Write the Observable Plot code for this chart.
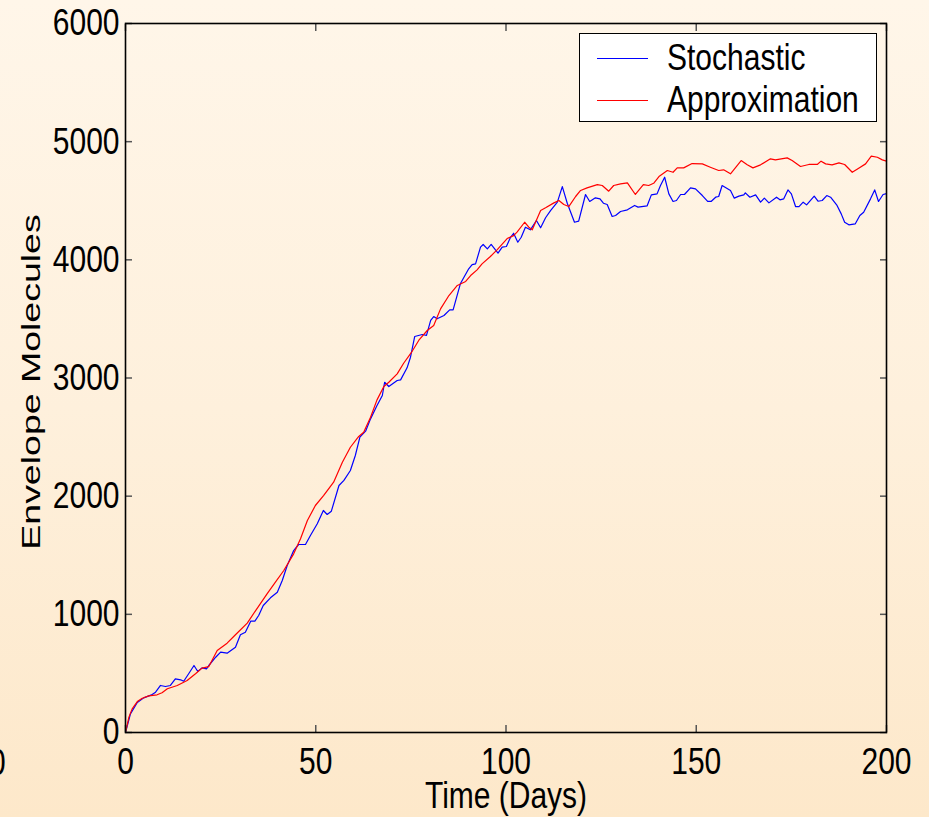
<!DOCTYPE html>
<html>
<head>
<meta charset="utf-8">
<script src="https://cdn.jsdelivr.net/npm/d3@7"></script>
<script src="https://cdn.jsdelivr.net/npm/@observablehq/plot@0.6"></script>
<style>
  html, body { margin: 0; padding: 0; }
  body {
    width: 929px; height: 817px; overflow: hidden; position: relative;
    background: linear-gradient(to bottom, #fff6e9 0%, #fef0dc 50%, #fde8ca 100%);
    font-family: "Liberation Sans", Arial, Helvetica, sans-serif;
  }
  #chart { position: absolute; left: 0; top: 0; }
  #legend {
    position: absolute; left: 579px; top: 33px; width: 296px; height: 87px;
    background: #ffffff; border: 1.5px solid #000;
  }
  .row { position: absolute; left: 0; height: 40px; width: 100%; }
  .swatch { position: absolute; left: 17px; width: 51px; top: 50%; height: 0; border-top: 1.2px solid; }
  .lab { position: absolute; left: 87px; top: 50%; font-size: 30px; line-height: 30px;
         transform: translateY(-50%) scaleY(1.24); transform-origin: left center; color: #000; white-space: nowrap; }
  #stray { position: absolute; left: -11px; top: 744px; font-size: 30px; line-height: 30px;
           transform: scaleY(1.24); transform-origin: left top; }
</style>
</head>
<body>
<div id="chart"></div>
<div id="legend">
  <div class="row" style="top:4px"><div class="swatch" style="border-color:#0000ff"></div><div class="lab" id="lab0"></div></div>
  <div class="row" style="top:46px"><div class="swatch" style="border-color:#ff0000"></div><div class="lab" id="lab1"></div></div>
</div>
<div id="stray">0</div>
<script>
const seriesNames = ["Stochastic", "Approximation"];
const seriesColors = ["#0000ff", "#ff0000"];
const xTicks = [0, 50, 100, 150, 200];
const yTicks = [0, 1000, 2000, 3000, 4000, 5000, 6000];
const xLabel = "Time (Days)";
const yLabel = "Envelope Molecules";

// [day, molecules]
const stochastic = [[0,0],[1.3,158],[3.1,254],[4.8,293],[7,321],[7.9,341],[9.2,398],[10.5,389],[11.8,398],[13.1,454],[14.5,446],[15.3,434],[16.6,497],[18,567],[19,516],[20.1,547],[21.3,539],[21.9,567],[23.7,637],[25,680],[26.7,671],[28.9,722],[30.2,827],[31.5,849],[32.9,942],[34,942],[35,990],[36.2,1075],[38.1,1140],[39.9,1187],[41.2,1286],[42.5,1413],[44.2,1540],[45.5,1591],[47.3,1591],[48.6,1667],[50.4,1766],[52,1879],[53,1845],[54.1,1873],[56.1,2090],[57.4,2133],[59.1,2217],[60.4,2344],[61.6,2499],[63.1,2550],[64.4,2654],[66.1,2767],[67.5,2852],[68.1,2964],[69.2,2928],[71.4,2979],[72.3,2984],[74,3086],[74.9,3176],[76,3351],[78,3368],[79.1,3360],[80.2,3487],[81,3520],[81.9,3501],[83.7,3529],[85.2,3577],[86.1,3577],[88,3797],[90.2,3924],[91.1,3960],[92,3966],[93.3,4107],[94,4130],[95.1,4093],[96.1,4130],[97.9,4056],[99,4107],[100.1,4113],[101.2,4191],[102,4225],[103.1,4149],[104,4191],[105.1,4276],[106.4,4254],[108,4333],[109.1,4271],[110.4,4356],[111.7,4417],[113.5,4488],[114.8,4620],[116.1,4479],[118,4318],[119.1,4327],[120.9,4553],[122,4494],[123.5,4525],[124.7,4516],[125.6,4479],[126.6,4468],[127.9,4367],[128.8,4375],[130.1,4409],[131.9,4423],[133.8,4460],[134.7,4446],[137.1,4457],[138.2,4550],[139.7,4558],[140.6,4629],[141.7,4699],[142.8,4558],[143.9,4494],[144.8,4502],[145.9,4553],[146.9,4553],[148.5,4609],[149.8,4601],[151.6,4544],[153,4494],[153.9,4494],[155.1,4530],[155.9,4536],[156.8,4629],[159,4587],[160,4522],[161.2,4539],[162.5,4550],[162.9,4567],[164.1,4530],[165.6,4550],[166.9,4488],[167.9,4522],[169.1,4482],[171.1,4530],[172,4508],[173,4516],[174.1,4592],[175,4558],[176.1,4451],[177,4451],[178.1,4488],[179,4465],[181,4539],[182,4496],[183.1,4502],[184.3,4544],[185.3,4530],[187,4460],[188.1,4389],[189,4318],[190.1,4296],[191.8,4305],[193,4375],[194,4403],[195.8,4516],[196.9,4592],[197.9,4494],[199.1,4553],[200,4560]];

const approximation = [[0,0],[0.9,130],[1.75,200],[3.1,262],[4.4,290],[6.1,310],[8.3,319],[9.6,336],[11,370],[13.6,398],[16.2,440],[18.4,497],[20.1,545],[21.9,558],[24.1,694],[26.7,756],[28.9,827],[32,925],[34.2,1032],[37.2,1173],[39.4,1272],[41.6,1371],[44.2,1512],[46,1640],[47.8,1794],[49.9,1921],[52.1,2006],[54.7,2118],[57,2287],[59.1,2414],[61.3,2505],[62.6,2541],[64.4,2668],[66.1,2815],[67.9,2928],[69.2,2964],[71.4,3035],[73.1,3125],[75.1,3214],[77.1,3320],[79.3,3402],[81,3444],[82.8,3585],[85,3698],[87.2,3783],[89.4,3817],[90.7,3867],[92.4,3915],[93.7,3966],[95.9,4028],[97.7,4087],[100.3,4180],[102,4205],[102.9,4234],[104.9,4318],[106,4276],[106.9,4254],[109.1,4417],[110.4,4440],[112.6,4482],[113.9,4502],[115.2,4468],[116.5,4451],[118.3,4536],[119.6,4587],[121.3,4609],[124,4637],[125.3,4629],[127,4581],[128.3,4629],[130.1,4643],[131.9,4652],[134,4553],[136.1,4637],[137.5,4629],[138.8,4648],[140.2,4705],[142.4,4756],[143.9,4741],[145,4778],[146.7,4778],[148.9,4815],[151.6,4812],[153.7,4784],[155.9,4756],[157.2,4762],[159,4728],[161.8,4840],[163.4,4804],[164.9,4778],[166.9,4804],[169.5,4855],[170.8,4846],[173.9,4863],[175.2,4840],[177.4,4790],[179.6,4807],[181.8,4807],[182.8,4835],[184,4812],[185.7,4804],[187.5,4821],[189,4807],[191,4741],[192.8,4778],[194.5,4812],[196,4877],[197.6,4868],[198.9,4846],[200,4835]];

const tickColor = "#555";
const chart = Plot.plot({
  width: 929,
  height: 817,
  marginLeft: 125,
  marginRight: 43,
  marginTop: 23,
  marginBottom: 85,
  style: { background: "transparent", fontFamily: "'Liberation Sans', Arial, Helvetica, sans-serif", fontSize: "30px", color: "#000", overflow: "visible" },
  x: { domain: [0, 200] },
  y: { domain: [0, 6000] },
  marks: [
    Plot.line(stochastic, { x: d => d[0], y: d => d[1], stroke: seriesColors[0], strokeWidth: 1.2 }),
    Plot.line(approximation, { x: d => d[0], y: d => d[1], stroke: seriesColors[1], strokeWidth: 1.2 }),
    Plot.axisX(xTicks, { anchor: "bottom", tickSize: 0, tickPadding: 15, tickFormat: d3.format("d"), label: null, fill: "#000" }),
    Plot.axisX(xTicks, { anchor: "bottom", tickSize: -7, text: null, label: null, stroke: tickColor, strokeWidth: 1.5 }),
    Plot.axisX(xTicks, { anchor: "top", tickSize: -7, text: null, label: null, stroke: tickColor, strokeWidth: 1.5 }),
    Plot.axisY(yTicks, { anchor: "left", tickSize: 0, tickPadding: 6, tickFormat: d3.format("d"), label: null, fill: "#000" }),
    Plot.axisY(yTicks, { anchor: "left", tickSize: -7, text: null, label: null, stroke: tickColor, strokeWidth: 1.5 }),
    Plot.axisY(yTicks, { anchor: "right", tickSize: -7, text: null, label: null, stroke: tickColor, strokeWidth: 1.5 }),
    Plot.frame({ stroke: "#000", strokeWidth: 1.6 }),
    Plot.text([xLabel], { frameAnchor: "bottom", lineAnchor: "middle", textAnchor: "middle", dy: 64, fontSize: 30, fill: "#000" }),
    Plot.text([yLabel], { frameAnchor: "left", lineAnchor: "middle", textAnchor: "middle", rotate: -90, dx: -94, dy: 4, fontSize: 30, fill: "#000" })
  ]
});

// stretch glyphs vertically to match the reference's tall letterforms
d3.select(chart).selectAll("text").each(function () {
  const t = this.getAttribute("transform");
  if (t) {
    const rotated = /rotate/.test(t);
    this.setAttribute("transform", t + (rotated ? " scale(1.25,0.85)" : " scale(1,1.24)"));
  } else {
    const x = +this.getAttribute("x") || 0, y = +this.getAttribute("y") || 0;
    this.setAttribute("transform", `translate(${x},${y}) scale(1,1.24) translate(${-x},${-y})`);
  }
});

document.getElementById("chart").appendChild(chart);
document.getElementById("lab0").textContent = seriesNames[0];
document.getElementById("lab1").textContent = seriesNames[1];
</script>
</body>
</html>
